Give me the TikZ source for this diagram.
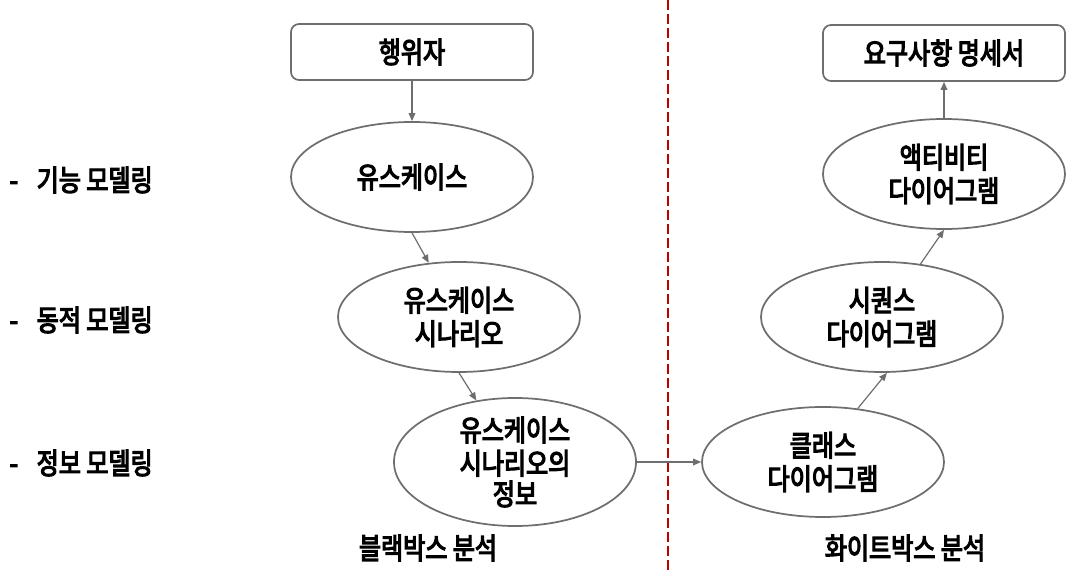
\documentclass[tikz,border=0pt]{standalone}
\usepackage{fontspec}
\setmainfont{Noto Sans CJK KR}
\font\krfont="Noto Sans CJK KR:embolden=4;extend=0.82" at 22pt
\newcommand\krtext{\krfont\baselineskip=25pt\relax}
\usepackage{tikz}
\usetikzlibrary{positioning,arrows.meta,shapes.geometric}
\usepackage{xcolor}
\definecolor{edgec}{HTML}{6E6E6E}
\definecolor{splitc}{HTML}{C00000}

\begin{document}
\begin{tikzpicture}[
  x=0.75pt, y=-0.75pt,
  every node/.style={font=\krtext},
  docbox/.style={rectangle, rounded corners=6pt, draw=edgec, line width=1.3pt,
                 minimum width=181.5pt, minimum height=42pt, inner sep=0pt},
  usec/.style={ellipse, draw=edgec, line width=1.3pt, align=center,
               minimum width=181.5pt, minimum height=82.5pt, inner sep=0pt},
  flow/.style={-{Triangle[length=6pt,width=5pt]}, edgec, line width=0.9pt},
  >=Stealth
]
\useasboundingbox (0,0) rectangle (1076,573);
% ---- split between black box and white box ----
\coordinate (top) at (668,0);
\coordinate (bot) at (668,573);
\draw[splitc, line width=2.2pt, dash pattern=on 7.5pt off 3pt] (top) -- (bot);

% ---- modelling levels ----
\foreach \nm/\txt/\y in {fn/기능 모델링/180, dyn/동적 모델링/320, inf/정보 모델링/463}{
  \node[anchor=west] (lvl-\nm) at (5,\y) {-\hspace{14pt}\txt};
}

% ---- black box analysis ----
\node[docbox] (actor) at (412,52) {행위자};
\node[usec] (uc)  at (412,177) {유스케이스};
\node[usec] (ucs) at (459,317) {유스케이스\\시나리오};
\node[usec] (uci) at (515,462) {유스케이스\\시나리오의\\[-2pt]정보};
\node (black) at (428,548) {블랙박스 분석};

% ---- white box analysis ----
\node[usec] (cls) at (823,462) {클래스\\다이어그램};
\node[usec] (seq) at (882,317) {시퀀스\\다이어그램};
\node[usec] (act) at (944,174) {액티비티\\다이어그램};
\node[docbox] (spec) at (944,53) {요구사항 명세서};
\node (white) at (905,548) {화이트박스 분석};

% ---- flow ----
\draw[flow] (actor) -- (uc);
\draw[flow] (uc.south) -- (ucs);
\draw[flow] (ucs.south) -- (uci);
\draw[flow] (uci) -- (cls);
\draw[flow] (cls.57) -- (seq.-85);
\draw[flow] (seq.54) -- (act.south);
\draw[flow] (act) -- (spec);
\end{tikzpicture}
\end{document}
